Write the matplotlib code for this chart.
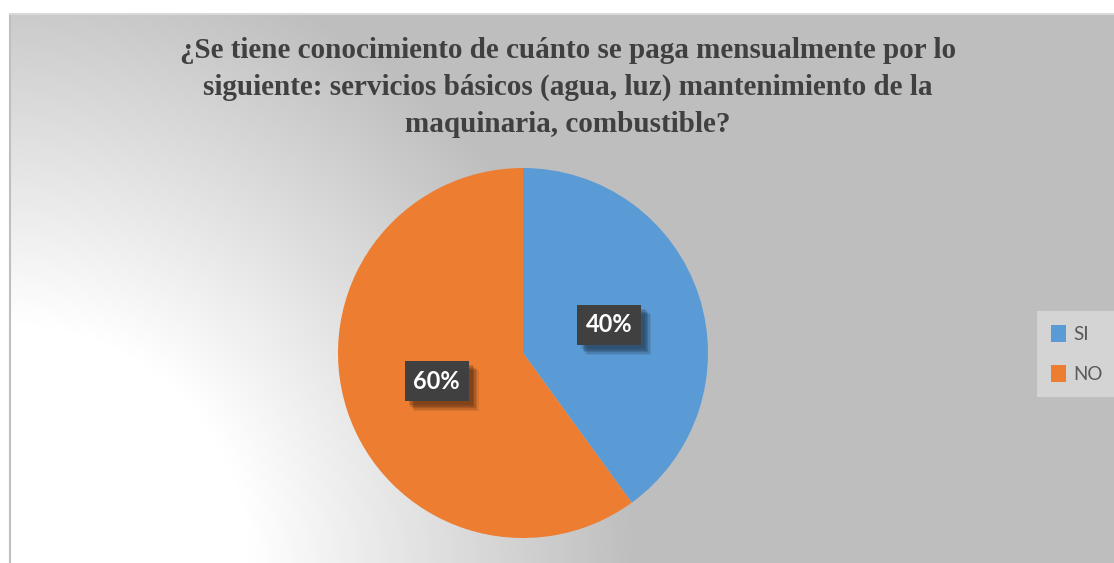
import numpy as np
import matplotlib
matplotlib.use("Agg")
import matplotlib.pyplot as plt
import matplotlib.patheffects as pe
from matplotlib.patches import Patch

W, H = 1114, 563

TITLE = ("¿Se tiene conocimiento de cuánto se paga mensualmente por lo\n"
         "siguiente: servicios básicos (agua, luz) mantenimiento de la\n"
         "maquinaria, combustible?")
LABELS = ["SI", "NO"]
VALUES = [40, 60]
COLORS = ["#5B9BD5", "#ED7D31"]

fig = plt.figure(figsize=(W / 100, H / 100), dpi=100)
fig.patch.set_facecolor("white")

# ── chart area background: radial gradient white (bottom-left) -> gray ──
x0, y_top = 10, 14
bg = fig.add_axes([x0 / W, 0, (W - x0) / W, (H - y_top) / H])
xx, yy = np.meshgrid(np.arange(x0, W), np.arange(y_top, H))
d = np.hypot(xx - 10, yy - 563)
t = np.clip((d - 240) / 380, 0, 1)
g = 1 - (1 - 0.749) * t
bg.imshow(np.dstack([g, g, g]), aspect="auto", interpolation="bilinear")
bg.set_xticks([])
bg.set_yticks([])
for s in ["right", "bottom"]:
    bg.spines[s].set_visible(False)
bg.spines["left"].set_color("#bfbfbf")
bg.spines["left"].set_linewidth(1.5)
bg.spines["top"].set_color("#d9d9d9")
bg.spines["top"].set_linewidth(1.5)

# ── title ──
fig.text(568 / W, 1 - 37 / H, TITLE, ha="center", va="top",
         fontsize=21, fontweight="bold", family="Liberation Serif",
         color="#404040", linespacing=1.47)

# ── pie ──
cx, cy, r = 523, 353, 185
ax = fig.add_axes([(cx - r) / W, (H - cy - r) / H, 2 * r / W, 2 * r / H])
ax.set_facecolor("none")
wedges, texts, autotexts = ax.pie(
    VALUES, colors=COLORS, startangle=90, counterclock=False,
    autopct="%d%%", pctdistance=0.49,
    wedgeprops=dict(linewidth=0),
    textprops=dict(color="white", fontsize=17, fontweight="bold",
                   family="Lato"))
shadow = [pe.SimplePatchShadow(offset=(o, -o), shadow_rgbFace="black", alpha=a)
          for o, a in [(7, 0.08), (6, 0.1), (5, 0.12), (4, 0.14), (3, 0.12)]]
for at in autotexts:
    at.set_bbox(dict(boxstyle="square,pad=0.37", facecolor="#404040",
                     edgecolor="none"))
    at.get_bbox_patch().set_path_effects(shadow + [pe.Normal()])
ax.set_xlim(-1, 1)
ax.set_ylim(-1, 1)
ax.axis("off")

# ── legend ──
handles = [Patch(facecolor=c, edgecolor="none") for c in COLORS]
leg = fig.legend(handles, LABELS, loc="center left",
                 bbox_to_anchor=(1037 / W, 1 - 354 / H), borderaxespad=0,
                 frameon=True, fancybox=False, framealpha=1,
                 facecolor="#d4d4d4", edgecolor="none",
                 prop=dict(family="Lato", size=13.5),
                 handlelength=0.8, handleheight=1.0, handletextpad=0.4,
                 labelspacing=1.15, borderpad=0.75)
for txt in leg.get_texts():
    txt.set_color("#595959")

fig.savefig("out.png", dpi=100)
